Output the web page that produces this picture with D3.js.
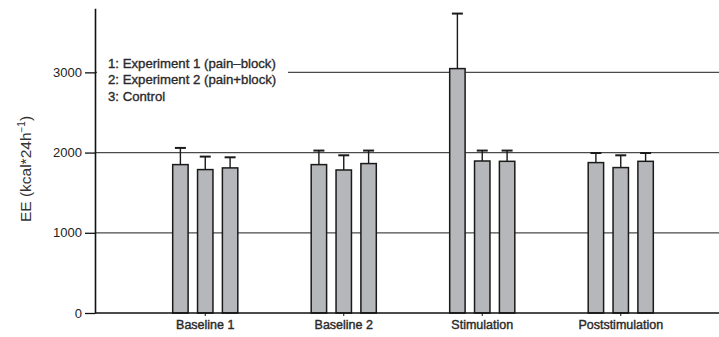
<!DOCTYPE html>
<html lang="en">
<head>
<meta charset="UTF-8">
<script src="https://d3js.org/d3.v7.min.js"></script>
<style>
    body { margin: 0; background: #fff; }
    svg { display: block; font-family: "Liberation Sans", Arial, sans-serif; }
</style>
</head>
<body>
<div id="chart"></div>
<script>
    // data
    const phases = ["Baseline 1", "Baseline 2", "Stimulation", "Poststimulation"];
    const groups = ["1", "2", "3"];
    const means = [
        [1850, 1788, 1809],
        [1850, 1783, 1863],
        [3047, 1895, 1891],
        [1875, 1813, 1891]
    ];
    const upper = [
        [2058, 1950, 1941],
        [2025, 1966, 2025],
        [3733, 2025, 2025],
        [1995, 1966, 1995]
    ];
    const yTicks = [0, 1000, 2000, 3000];
    const legendLines = ["1: Experiment 1 (pain\u2013block)", "2: Experiment 2 (pain+block)", "3: Control"];

    const width = 719, height = 337;
    const x0 = 95, y0 = 313;

    const svg = d3.select("#chart").append("svg")
        .attr("width", width)
        .attr("height", height);

    const y = d3.scaleLinear().domain([0, 3800]).range([y0, 8.2]);
    const x = d3.scaleBand().domain(phases).range([136, 690]);
    const xi = d3.scaleBand().domain(groups).range([-42, 42]).padding(0.38);

    // grid lines
    svg.append("g").selectAll("line")
        .data(yTicks.filter(d => d > 0))
        .join("line")
        .attr("x1", x0).attr("x2", width)
        .attr("y1", d => y(d)).attr("y2", d => y(d))
        .attr("stroke", "#4a4a4a")
        .attr("stroke-width", 1.3);

    // legend (covers grid line)
    const leg = svg.append("g");
    leg.append("rect")
        .attr("x", 97).attr("y", 54).attr("width", 191).attr("height", 50)
        .attr("fill", "#fff");
    leg.selectAll("text")
        .data(legendLines)
        .join("text")
        .attr("x", 108)
        .attr("y", (d, i) => 67.5 + i * 16.5)
        .attr("font-size", 13.2)
        .attr("fill", "#2a2a2a")
        .attr("stroke", "#2a2a2a")
        .attr("stroke-width", 0.35)
        .text(d => d);

    // bars
    const cells = [];
    phases.forEach((p, i) => groups.forEach((g, j) => {
        cells.push({ phase: p, group: g, mean: means[i][j], up: upper[i][j] });
    }));

    const cx = d => x(d.phase) + x.bandwidth() / 2 + xi(d.group);

    svg.append("g").selectAll("rect")
        .data(cells)
        .join("rect")
        .attr("x", d => cx(d))
        .attr("y", d => y(d.mean))
        .attr("width", xi.bandwidth())
        .attr("height", d => y0 - y(d.mean))
        .attr("fill", "#b6b7ba")
        .attr("stroke", "#1a1a1a")
        .attr("stroke-width", 1.5);

    // error bars
    const err = svg.append("g").attr("stroke", "#1a1a1a");
    err.selectAll("line.v")
        .data(cells)
        .join("line")
        .attr("class", "v")
        .attr("x1", d => cx(d) + xi.bandwidth() / 2)
        .attr("x2", d => cx(d) + xi.bandwidth() / 2)
        .attr("y1", d => y(d.mean))
        .attr("y2", d => y(d.up))
        .attr("stroke-width", 1.4);
    err.selectAll("line.c")
        .data(cells)
        .join("line")
        .attr("class", "c")
        .attr("x1", d => cx(d) + xi.bandwidth() / 2 - 5.5)
        .attr("x2", d => cx(d) + xi.bandwidth() / 2 + 5.5)
        .attr("y1", d => y(d.up))
        .attr("y2", d => y(d.up))
        .attr("stroke-width", 2);

    // y axis
    const yAxis = svg.append("g")
        .attr("transform", `translate(${x0},0)`)
        .call(d3.axisLeft(y).tickValues(yTicks).tickFormat(d3.format("d")).tickSize(10).tickSizeOuter(0).tickPadding(3));
    yAxis.select(".domain").attr("stroke", "#111").attr("stroke-width", 1.6);
    yAxis.selectAll(".tick line").attr("stroke", "#111").attr("stroke-width", 1.3);
    yAxis.selectAll(".tick text")
        .attr("font-size", 13)
        .attr("fill", "#222")
        .attr("font-family", "Liberation Sans, Arial, sans-serif");

    // x axis
    const xAxis = svg.append("g")
        .attr("transform", `translate(0,${y0})`)
        .call(d3.axisBottom(x).tickSize(3).tickSizeOuter(0).tickPadding(4));
    xAxis.select(".domain").attr("d", `M${x0},0H${width}`).attr("stroke", "#111").attr("stroke-width", 1.6);
    xAxis.selectAll(".tick line").attr("stroke", "#111");
    xAxis.selectAll(".tick text")
        .attr("font-size", 12.5)
        .attr("fill", "#2a2a2a")
        .attr("stroke", "#2a2a2a")
        .attr("stroke-width", 0.4)
        .attr("font-family", "Liberation Sans, Arial, sans-serif");

    // y label
    const yl = svg.append("text")
        .attr("transform", "translate(31,169) rotate(-90)")
        .attr("text-anchor", "middle")
        .attr("font-size", 15.5)
        .attr("fill", "#333");
    yl.append("tspan").text("EE (kcal*24h");
    yl.append("tspan").attr("font-size", 10).attr("dy", -6).text("\u22121");
    yl.append("tspan").attr("dy", 6).text(")");
</script>
</body>
</html>
